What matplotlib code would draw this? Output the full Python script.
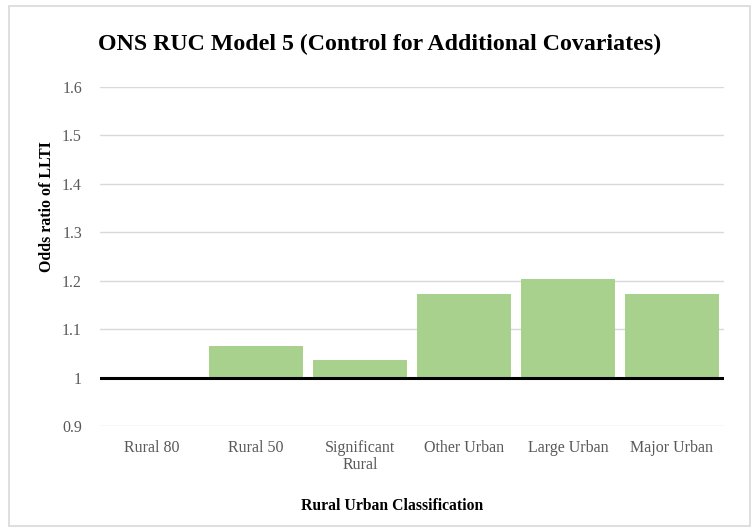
import matplotlib
matplotlib.use("Agg")
import matplotlib.pyplot as plt
from matplotlib.patches import Rectangle

categories = ["Rural 80", "Rural 50", "Significant\nRural", "Other Urban", "Large Urban", "Major Urban"]
odds_ratios = [1.0, 1.066, 1.037, 1.172, 1.203, 1.172]
y_ticks = [0.9, 1.0, 1.1, 1.2, 1.3, 1.4, 1.5, 1.6]
y_tick_labels = ["0.9", "1", "1.1", "1.2", "1.3", "1.4", "1.5", "1.6"]
baseline = 1.0

plt.rcParams["font.family"] = ["Liberation Serif", "DejaVu Serif"]

fig = plt.figure(figsize=(7.56, 5.27), dpi=100)
ax = fig.add_axes([100 / 756, 1 - 426 / 527, 624 / 756, (426 - 87) / 527])

# odds ratios drawn as bars rising from the reference value of 1
x = list(range(len(categories)))
heights = [v - baseline for v in odds_ratios]
ax.bar(x, heights, bottom=baseline, width=0.91, color="#a9d18e", zorder=2)
ax.axhline(baseline, color="black", linewidth=2.2, zorder=3)

ax.set_xlim(-0.5, len(categories) - 0.5)
ax.set_ylim(0.9, 1.6)
ax.set_yticks(y_ticks)
ax.set_yticklabels(y_tick_labels)
ax.set_xticks(x)
ax.set_xticklabels(categories, linespacing=1.1)
ax.grid(axis="y", color="#d9d9d9", linewidth=1.0, zorder=0)
ax.set_axisbelow(True)
for s in ax.spines.values():
    s.set_visible(False)
ax.tick_params(axis="both", length=0, labelsize=11.5, labelcolor="#595959")
ax.tick_params(axis="x", pad=10)
ax.tick_params(axis="y", pad=13)

fig.text(380 / 756, 1 - 44 / 527, "ONS RUC Model 5 (Control for Additional Covariates)",
         ha="center", va="center", fontsize=17.2, fontweight="bold")
fig.text(47 / 756, 1 - 207 / 527, "Odds ratio of LLTI", rotation=90,
         ha="center", va="center", fontsize=11.4, fontweight="bold")
fig.text(392 / 756, 1 - 506 / 527, "Rural Urban Classification",
         ha="center", va="center", fontsize=11.3, fontweight="bold")

# chart-area frame
fig.patches.append(Rectangle((9 / 756, 1 - 526 / 527), 741 / 756, 520 / 527,
                             transform=fig.transFigure, fill=False,
                             edgecolor="#d9d9d9", linewidth=1.2))

fig.savefig("out.png", dpi=100)
